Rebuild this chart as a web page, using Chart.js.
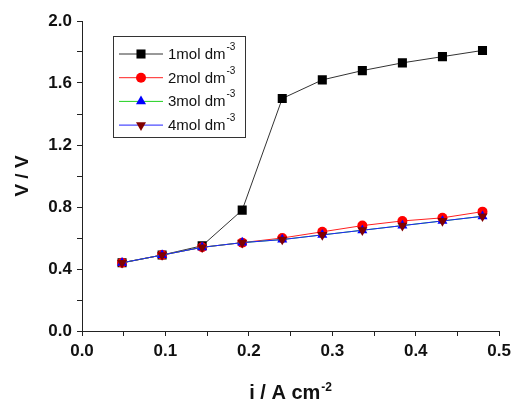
<!DOCTYPE html>
<html>
<head>
<meta charset="utf-8">
<script src="https://cdn.jsdelivr.net/npm/chart.js@4.4.1/dist/chart.umd.min.js"></script>
<style>
  html, body { margin: 0; padding: 0; background: #fff; }
  canvas { display: block; }
</style>
</head>
<body>
<canvas id="vChart" width="516" height="403"></canvas>
<script>
// current density (A cm-2)
const currents = [0.048, 0.096, 0.144, 0.192, 0.240, 0.288, 0.336, 0.384, 0.432, 0.480];

// cell voltage (V) for each concentration
const v1mol = [0.44, 0.49, 0.55, 0.78, 1.50, 1.62, 1.68, 1.73, 1.77, 1.81];
const v2mol = [0.44, 0.49, 0.54, 0.57, 0.60, 0.64, 0.68, 0.71, 0.73, 0.77];
const v3mol = [0.44, 0.49, 0.54, 0.57, 0.59, 0.62, 0.65, 0.68, 0.71, 0.74];
const v4mol = [0.44, 0.49, 0.54, 0.57, 0.59, 0.62, 0.65, 0.68, 0.71, 0.74];

const seriesLabels = ['1mol dm^-3', '2mol dm^-3', '3mol dm^-3', '4mol dm^-3'];
const xTitle = 'i / A cm^-2';
const yTitle = 'V / V';

function toPoints(ys) {
	return ys.map((y, i) => ({ x: currents[i], y: y }));
}

// draws "text^sup" with a raised small part
function drawSupText(ctx, str, x, y, font, supFont, rise, align) {
	const parts = str.split('^');
	ctx.font = font;
	const w1 = ctx.measureText(parts[0]).width;
	ctx.font = supFont;
	const w2 = parts[1] ? ctx.measureText(parts[1]).width + 1 : 0;
	let start = x;
	if (align === 'center') start = x - (w1 + w2) / 2;
	ctx.textAlign = 'left';
	ctx.textBaseline = 'alphabetic';
	ctx.font = font;
	ctx.fillText(parts[0], start, y);
	if (parts[1]) {
		ctx.font = supFont;
		ctx.fillText(parts[1], start + w1 + 1, y - rise);
	}
}

const boxLegend = {
	id: 'boxLegend',
	afterDraw(chart) {
		const ctx = chart.ctx;
		ctx.save();
		// frame
		ctx.strokeStyle = '#333';
		ctx.lineWidth = 1;
		ctx.strokeRect(113.5, 36.5, 132, 101);
		chart.data.datasets.forEach((ds, i) => {
			const y = 54 + i * 23.7;
			ctx.strokeStyle = ds.borderColor;
			ctx.lineWidth = 1;
			ctx.beginPath();
			ctx.moveTo(119, y);
			ctx.lineTo(163, y);
			ctx.stroke();
			ctx.fillStyle = ds.pointBackgroundColor;
			ctx.strokeStyle = ds.pointBorderColor;
			Chart.helpers.drawPoint(ctx, {
				pointStyle: ds.pointStyle,
				rotation: ds.rotation || 0,
				radius: ds.pointRadius,
				borderWidth: 0
			}, 141, y);
			ctx.fillStyle = '#111';
			drawSupText(ctx, ds.label, 168, y + 5, '15px "Liberation Sans", Arial, sans-serif',
				'10px "Liberation Sans", Arial, sans-serif', 9, 'left');
		});
		// axis titles
		ctx.fillStyle = '#111';
		const area = chart.chartArea;
		drawSupText(ctx, xTitle, (area.left + area.right) / 2, 399,
			'bold 20px "Liberation Sans", Arial, sans-serif',
			'bold 12px "Liberation Sans", Arial, sans-serif', 8, 'center');
		ctx.translate(28, (area.top + area.bottom) / 2);
		ctx.rotate(-Math.PI / 2);
		ctx.font = 'bold 19px "Liberation Sans", Arial, sans-serif';
		ctx.textAlign = 'center';
		ctx.textBaseline = 'alphabetic';
		ctx.fillText(yTitle, 0, 0);
		ctx.restore();
	}
};

const lineColors = ['#333333', '#ff2020', '#20d020', '#2020ff'];
const markColors = ['#000000', '#ff0000', '#0000ff', '#800000'];
const markStyles = ['rect', 'circle', 'triangle', 'triangle'];
const markRot = [0, 0, 0, 180];
const markRadius = [6.4, 5, 5.8, 5.8];
const allSeries = [v1mol, v2mol, v3mol, v4mol];

const datasets = allSeries.map((vals, i) => ({
	label: seriesLabels[i],
	data: toPoints(vals),
	borderColor: lineColors[i],
	borderWidth: 1,
	pointStyle: markStyles[i],
	rotation: markRot[i],
	pointRadius: markRadius[i],
	pointBackgroundColor: markColors[i],
	pointBorderColor: markColors[i],
	pointBorderWidth: 0,
	order: 4 - i,
	tension: 0,
	fill: false
}));

const tickFont = { family: '"Liberation Sans", Arial, sans-serif', size: 17, weight: 'bold' };

new Chart(document.getElementById('vChart').getContext('2d'), {
	type: 'line',
	data: { datasets: datasets },
	options: {
		responsive: false,
		animation: false,
		layout: { padding: { left: 0, top: 21, right: 16, bottom: 0 } },
		plugins: {
			legend: { display: false },
			tooltip: { enabled: false }
		},
		scales: {
			x: {
				type: 'linear',
				min: 0,
				max: 0.5,
				afterFit: s => { s.height = 72; },
				border: { color: '#222', width: 1 },
				grid: { drawOnChartArea: false, tickLength: 5, tickColor: '#222' },
				ticks: {
					stepSize: 0.05,
					color: '#111',
					font: tickFont,
					padding: 5,
					maxRotation: 0,
					autoSkip: false,
					callback: v => (Math.round(v * 100) % 10 === 0 ? v.toFixed(1) : '')
				}
			},
			y: {
				min: 0,
				max: 2,
				afterFit: s => { s.width = 82; },
				border: { color: '#222', width: 1 },
				grid: { drawOnChartArea: false, tickLength: 5, tickColor: '#222' },
				ticks: {
					stepSize: 0.2,
					color: '#111',
					font: tickFont,
					padding: 5,
					autoSkip: false,
					callback: v => (Math.round(v * 10) % 4 === 0 ? v.toFixed(1) : '')
				}
			}
		}
	},
	plugins: [boxLegend]
});
</script>
</body>
</html>
